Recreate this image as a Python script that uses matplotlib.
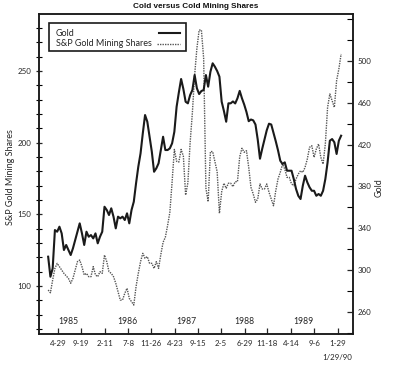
import matplotlib
matplotlib.use("Agg")
import matplotlib.pyplot as plt
import matplotlib.ticker as mticker
import matplotlib.transforms as mtransforms
from matplotlib.patches import Rectangle
from matplotlib.lines import Line2D
import pandas as pd

# ---- data (biweekly) ----
dates = pd.date_range("1985-02-25", periods=131, freq="14D")

gold = [312.7, 293.5, 301.5, 338.2, 336.6, 341.4, 335.0, 319.1, 323.9, 319.1,
        314.3, 320.7, 328.6, 336.6, 344.6, 335.0, 323.9, 336.6, 331.8, 333.4,
        330.2, 335.0, 325.5, 331.8, 336.6, 360.5, 357.4, 352.6, 359.0, 351.0,
        339.8, 351.0, 349.4, 351.0, 347.8, 354.2, 344.6, 357.4, 365.3, 382.9,
        398.8, 411.6, 430.8, 448.3, 441.9, 427.5, 413.2, 394.0, 397.3, 402.1,
        414.8, 427.5, 414.8, 414.8, 416.4, 421.2, 432.3, 456.2, 470.0, 482.8,
        473.2, 461.0, 459.5, 467.4, 472.2, 486.6, 473.9, 468.4, 471.3, 472.2,
        486.6, 475.4, 489.7, 497.8, 494.5, 490.4, 485.0, 461.0, 452.1, 441.9,
        459.5, 459.5, 461.3, 459.4, 464.3, 471.4, 464.3, 458.3, 451.2, 442.4,
        444.0, 443.2, 439.2, 424.8, 406.5, 416.1, 424.8, 433.7, 440.0, 439.2,
        431.2, 423.2, 414.5, 404.6, 401.4, 403.0, 395.0, 395.0, 395.0, 387.0,
        377.5, 371.0, 367.9, 380.6, 390.2, 383.9, 379.1, 375.8, 375.8, 371.0,
        372.7, 371.0, 375.8, 387.0, 403.0, 423.7, 425.3, 422.2, 411.0, 423.7,
        428.5]

sp_gold = [97.2, 95.3, 104.2, 112.3, 115.8, 113.5, 111.2, 108.8, 107.0, 105.3,
           101.9, 105.3, 111.2, 117.0, 118.1, 113.5, 107.7, 108.8, 106.5, 106.5,
           113.5, 107.7, 106.5, 110.0, 108.8, 121.6, 117.0, 110.0, 108.8, 106.5,
           101.9, 96.0, 90.2, 90.2, 94.9, 98.4, 91.4, 89.1, 86.7, 99.5,
           108.8, 117.0, 122.8, 119.3, 120.5, 115.8, 115.8, 112.3, 117.0, 112.3,
           122.0, 130.5, 134.0, 142.2, 151.4, 172.6, 195.3, 187.0, 186.5, 195.3,
           190.6, 163.5, 172.0, 200.0, 221.0, 247.2, 265.8, 278.6, 278.6, 258.9,
           168.2, 158.8, 193.8, 193.8, 186.8, 179.7, 150.7, 165.8, 171.7, 168.2,
           171.7, 171.7, 169.3, 172.8, 172.8, 190.2, 196.1, 193.3, 194.4, 182.8,
           168.8, 164.2, 158.4, 160.7, 171.2, 167.7, 167.7, 171.2, 165.4, 160.7,
           156.0, 166.5, 174.7, 179.3, 185.1, 181.6, 175.8, 175.8, 171.2, 170.0,
           174.7, 178.1, 180.4, 179.3, 182.8, 188.6, 196.8, 197.9, 189.8, 195.6,
           199.1, 189.8, 185.1, 199.1, 224.7, 234.0, 229.3, 224.7, 243.3, 251.4,
           261.9]

tick_dates = ["1985-04-29", "1985-09-19", "1986-02-11", "1986-07-08", "1986-11-26",
              "1987-04-23", "1987-09-15", "1988-02-05", "1988-06-29", "1988-11-18",
              "1989-04-14", "1989-09-06", "1990-01-29"]
tick_labels = ["4-29", "9-19", "2-11", "7-8", "11-26", "4-23", "9-15", "2-5",
               "6-29", "11-18", "4-14", "9-6", "1-29"]
years = ["1985", "1986", "1987", "1988", "1989"]
left_major = [100, 150, 200, 250]
right_major = [260, 300, 340, 380, 420, 460, 500]

# ---- figure ----
W, H = 396, 371
TXT = "#262626"
plt.rcParams['font.family'] = ['Lato', 'DejaVu Sans']
fig = plt.figure(figsize=(W/100, H/100), dpi=100)
ax = fig.add_axes([38.5/W, 1-334/H, (352.7-38.5)/W, (334-14)/H])
ax2 = ax.twinx()

SP_STYLE = dict(color="#555555", lw=1.0, linestyle=(0, (1, 0.8)))
GOLD_STYLE = dict(color="#1a1a1a", lw=1.5)
ax.plot(dates, sp_gold, **SP_STYLE)
ax2.plot(dates, gold, **GOLD_STYLE)

ax.set_xlim(pd.Timestamp("1984-12-27"), pd.Timestamp("1990-05-02"))
ax.set_ylim(66.5, 289.8)
ax2.set_ylim(238.7, 545)

ax.set_xticks(pd.to_datetime(tick_dates))
ax.set_xticklabels(tick_labels)
ax.tick_params(axis='x', direction='in', length=4, width=0.9, pad=4.5,
               labelsize=5.7, colors=TXT)

ax.yaxis.set_major_locator(mticker.FixedLocator(left_major))
ax.yaxis.set_minor_locator(mticker.MultipleLocator(10))
ax.tick_params(axis='y', which='major', direction='inout', length=5, width=0.9,
               pad=2.5, labelsize=5.7, colors=TXT)
ax.tick_params(axis='y', which='minor', direction='inout', length=4, width=0.8)

ax2.yaxis.set_major_locator(mticker.FixedLocator(right_major))
ax2.yaxis.set_minor_locator(mticker.MultipleLocator(20))
ax2.tick_params(axis='y', which='major', direction='in', length=4, width=0.9,
                pad=3.5, labelsize=5.7, colors=TXT)
ax2.tick_params(axis='y', which='minor', direction='in', length=4, width=0.8)

for a in (ax, ax2):
    for s in a.spines.values():
        s.set_linewidth(1.1)
        s.set_color("#1a1a1a")

# year labels inside the axes, at mid-year
trans = mtransforms.blended_transform_factory(ax.transData, ax.transAxes)
for yr in years:
    ax.text(pd.Timestamp(f"{yr}-07-01"), 0.038, yr, transform=trans,
            ha="center", va="center", fontsize=6.2, color=TXT)
ax.text(pd.Timestamp("1990-01-29"), -0.075, "1/29/90", transform=trans,
        ha="center", va="center", fontsize=5.7, color=TXT)

ax.set_ylabel("S&P Gold Mining Shares", fontsize=6.5, color=TXT)
ax.yaxis.set_label_coords((15.5-38.5)/314.2, (334-177.5)/320)
ax2.set_ylabel("Gold", fontsize=6.5, color=TXT)
ax2.yaxis.set_label_coords((374.5-38.5)/314.2, (334-188)/320)

fig.text(196/W, 1-6/H, "Cold versus Cold Mining Shares", ha="center", va="center",
         fontsize=5.9, fontweight="bold", family=["Liberation Sans", "DejaVu Sans"],
         color="#111111")

# legend (text on the left, line sample on the right, as in the reference)
def fx(px):
    return px / W

def fy(py):
    return 1 - py / H

fig.patches.append(Rectangle((fx(49.3), fy(50.7)), fx(185.7) - fx(49.3), fy(22.7) - fy(50.7),
                             transform=fig.transFigure, fill=True, facecolor="white",
                             edgecolor="#1a1a1a", lw=1.2, zorder=5))
fig.text(fx(56), fy(33), "Gold", ha="left", va="center", fontsize=6.5, color=TXT, zorder=6)
fig.text(fx(56), fy(43.5), "S&P Gold Mining Shares", ha="left", va="center",
         fontsize=6.5, color=TXT, zorder=6)
fig.lines.append(Line2D([fx(159), fx(180)], [fy(33), fy(33)], transform=fig.transFigure,
                        zorder=6, **GOLD_STYLE))
fig.lines.append(Line2D([fx(157), fx(180)], [fy(43.5), fy(43.5)], transform=fig.transFigure,
                        zorder=6, **SP_STYLE))

fig.savefig("out.png", dpi=100)
